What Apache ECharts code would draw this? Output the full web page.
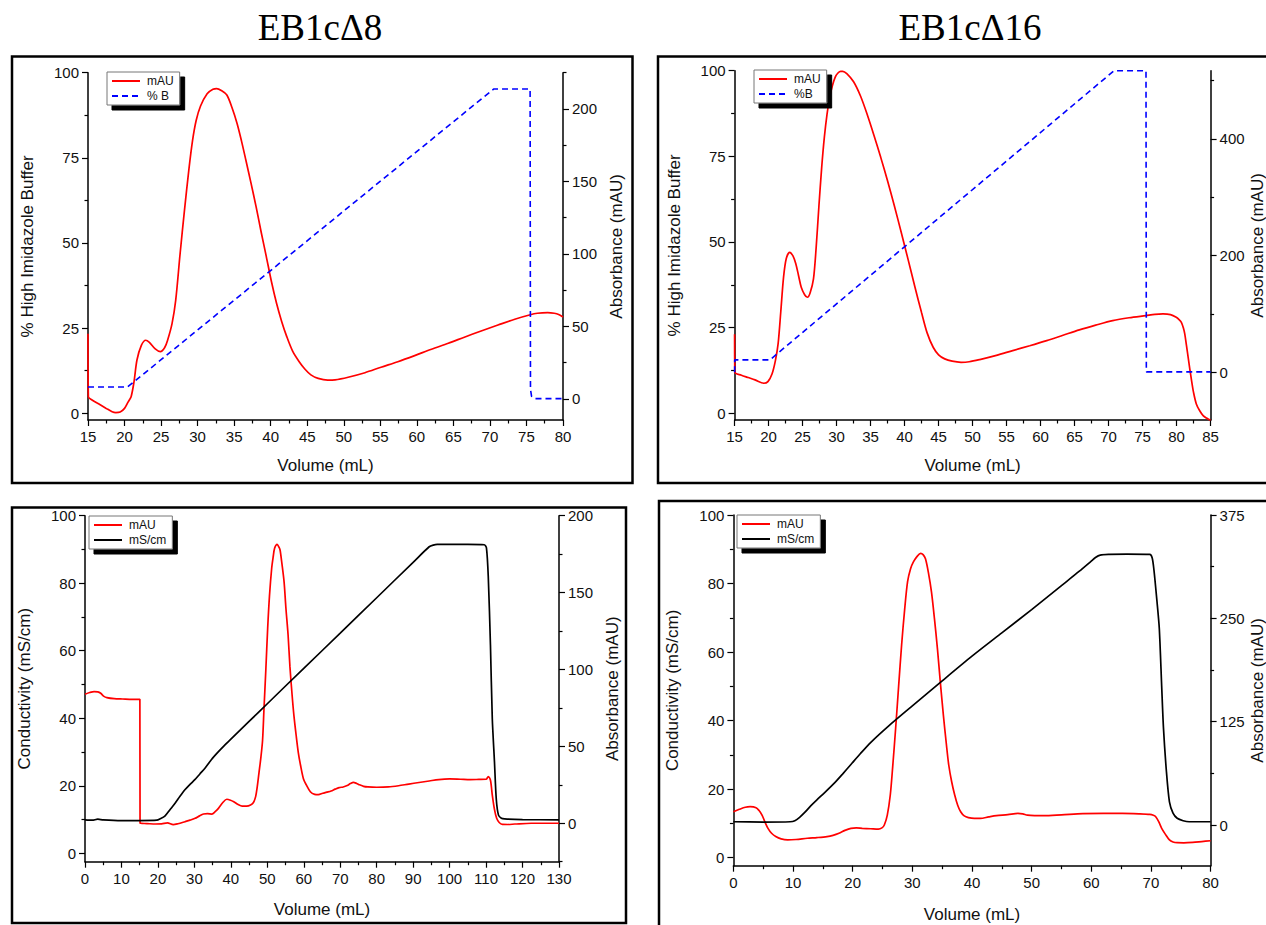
<!DOCTYPE html>
<html>
<head>
<meta charset="utf-8">
<title>EB1cΔ8 / EB1cΔ16 purification</title>
<script src="https://cdn.jsdelivr.net/npm/echarts@6/dist/echarts.min.js"></script>
<style>
  html, body { margin: 0; padding: 0; background: #fff; }
  #chart { width: 1266px; height: 925px; }
</style>
</head>
<body>
<div id="chart"></div>
<script>
// ---- Data: [volume (mL), value] pairs ----

// EB1cΔ8, Ni-affinity run: absorbance (mAU) and high-imidazole buffer (%B)
const d8NiAbs = [[15,45],[15.05,1.5],[15.5,-0.5],[16.5,-3.5],[17.5,-6.5],[18.3,-8.8],[18.8,-9.4],[19.4,-9],[20,-6.5],[20.5,-2],[20.9,1.6],[21.3,12],[21.7,26.9],[22.3,37],[22.9,40.5],[23.4,39],[24.2,34.5],[24.9,32.6],[25.5,35.5],[25.9,40.7],[26.5,52],[27,68],[27.6,100],[28.2,130],[28.8,158],[29.3,178],[29.8,192],[30.4,202],[31.3,210.5],[32.1,213.6],[32.6,214],[33.3,212.5],[34,209.6],[34.7,201],[35.4,190],[36,178],[36.6,164.8],[37.3,149],[38,132.6],[38.7,115],[39.4,98.2],[40.1,81],[40.8,66],[41.5,53.5],[42.2,43],[43,33],[43.9,25.7],[44.7,20.5],[45.5,16.6],[46.5,14.2],[47.8,13],[48.8,13.2],[50.6,15],[52.9,18.1],[55.1,21.9],[57.4,25.7],[59.7,29.9],[62,34.3],[64.3,38.4],[66.5,42.6],[68.8,46.9],[71.1,51],[73.4,55],[75.4,57.9],[76.5,59.1],[77.9,59.5],[78.8,59.1],[79.4,58.3],[80,56.5]];
const d8NiB = [[15,7.7],[20.4,7.7],[70.5,95.2],[75.5,95.2],[75.55,7],[75.7,5],[76.2,4.3],[80,4.3]];

// EB1cΔ16, Ni-affinity run
const d16NiAbs = [[15,65],[15.04,0],[16,-5],[17,-9],[18,-13],[19.3,-18.8],[19.9,-16],[20.5,-3],[21,20],[21.4,49],[21.8,105],[22.2,163],[22.6,195],[23.1,205.7],[23.6,199],[24,186],[24.4,166],[24.8,145.7],[25.3,133],[25.7,128.6],[26.1,136],[26.6,160],[27,215],[27.4,285],[27.8,350],[28.2,403],[28.6,443],[29,472],[29.4,492],[29.8,506],[30.2,513],[30.6,516],[30.9,516],[31.5,512],[32.5,498],[33.5,474],[34.5,442],[35.5,406],[36.5,368],[37.5,328],[38.5,285],[39.5,240],[40.5,194],[41.5,147],[42.5,102],[43.3,68],[44.2,42.9],[45,30],[45.9,23],[47,19],[48.3,17.1],[49.5,18],[51.05,21.8],[53.5,29],[55.9,37.2],[58.4,45.5],[60.9,54.3],[63.3,63.5],[65.7,72.7],[68.1,80.8],[70.6,88.6],[73,93.5],[75.5,97.2],[76.8,99.2],[78,100],[79.1,98.8],[79.95,94.3],[80.4,90],[80.7,85.7],[81,76],[81.2,65.8],[81.45,46],[81.7,25.7],[81.95,5],[82.2,-14.2],[82.5,-35],[82.9,-54.2],[83.4,-66],[83.9,-74.2],[84.4,-78.5],[84.85,-81.6],[85,-82]];
const d16NiB = [[15,12],[15.02,15.6],[20.2,15.6],[70.8,100],[75.5,100],[75.55,12.1],[85,12.1]];

// EB1cΔ8, ion-exchange run: absorbance (mAU) and conductivity (mS/cm)
const d8IexAbs = [[0,83.9],[1.3,85],[2.5,85.6],[3.5,85.4],[4.3,84.5],[5.2,82.5],[6,81.7],[8,81],[10.3,80.8],[13,80.6],[15.05,80.6],[15.1,0],[17,-0.2],[19.3,-0.5],[21,-0.4],[22.6,0.2],[24.2,-0.9],[25.5,-0.3],[27.4,1],[28.8,2],[30.2,3.2],[31.4,4.8],[32.5,6],[33.6,6.2],[34.8,6],[35.7,7.5],[36.6,9.7],[37.8,13.5],[38.9,15.6],[39.9,15],[40.8,14],[42,12.2],[43.1,11.2],[44.3,11.2],[45.4,11.9],[46.2,13.5],[46.8,17.3],[47.2,23],[47.7,32.5],[48.2,42],[48.7,54],[49.1,75],[49.6,100],[50.1,126.8],[50.6,148],[51.2,165.8],[51.6,173],[52,178.8],[52.7,181.4],[53.2,179.5],[53.5,177.7],[54,169],[54.6,157],[55.1,140],[55.7,122.4],[56.2,102],[56.8,83.4],[57.3,70],[57.9,57.4],[58.5,46],[59.1,37.9],[59.9,29],[60.7,24.9],[61.8,20.5],[63,18.8],[64,18.6],[65.2,19.5],[66.3,20.2],[67.5,21],[68.6,22.2],[69.7,23.2],[70.8,23.6],[71.9,24.5],[72.8,25.8],[73.6,26.6],[74.5,25.9],[75.3,25],[76.4,24],[77.6,23.6],[80,23.4],[83.2,23.6],[86,24.4],[88.8,25.5],[91.6,26.5],[94.4,27.5],[97,28.4],[100,28.8],[103,28.6],[105.6,28.4],[108,28.5],[110,28.6],[110.6,30.3],[111.2,28],[111.7,18.4],[112.3,9],[112.9,3.2],[113.6,0.5],[114.5,-0.7],[116,-0.8],[117.9,-0.5],[122.4,0],[130,0]];
const d8IexCond = [[0,9.9],[2,9.8],[3.5,10.1],[5,9.9],[10,9.7],[15,9.7],[19.7,9.8],[20.6,10.2],[21.9,11],[23.3,12.9],[24.7,14.8],[26,16.8],[27.4,18.8],[28.8,20.4],[30.2,21.9],[31.5,23.5],[32.9,25.2],[34.7,27.8],[36.6,30.1],[38.2,31.9],[39.8,33.6],[45,39.05],[50,44.3],[60,54.8],[70,65.2],[80,75.7],[90,86.2],[94.4,90.8],[95.5,91.3],[96.6,91.5],[100,91.5],[105,91.5],[109.5,91.4],[110.1,90.5],[110.6,82],[111.2,61.7],[111.7,40],[112.3,27.1],[112.8,16],[113.4,11.3],[114.2,10.4],[115.1,10.2],[120,10],[130,9.9]];

// EB1cΔ16, ion-exchange run
const d16IexAbs = [[0,16.1],[1,19],[2,21.5],[2.8,22.2],[3.8,21],[4.3,17.5],[4.8,12],[5.3,3.5],[5.8,-4],[6.4,-10],[7.1,-14],[8,-16.8],[9.1,-18],[10.5,-17.5],[12.4,-16],[14,-15.2],[15.7,-14],[16.7,-12.5],[17.7,-10],[18.7,-6.5],[19.7,-4],[20.6,-3.5],[21.6,-4],[23,-4.5],[24.3,-5],[24.9,-3.5],[25.3,0],[25.8,12],[26.3,36.3],[26.7,70],[27.2,117],[27.7,168],[28.2,217.7],[28.7,260],[29.2,294.3],[29.7,310],[30.2,318.5],[30.8,325],[31.4,328.6],[31.8,327],[32.2,322],[32.7,305],[33.2,282.2],[33.7,250],[34.2,213.7],[34.7,172],[35.2,133],[35.7,98],[36.1,72.6],[36.6,52],[37.1,36.3],[37.6,24],[38.1,16.1],[38.7,11],[39.4,8.9],[40.4,8],[41.4,8],[42.8,9.8],[44.1,11.3],[46,12.5],[47.7,14.1],[48.5,13.5],[49.3,12],[50.5,11.4],[52,11.3],[55,12.3],[58.6,13.7],[62,14.1],[65.2,14.1],[68,13.6],[69.8,12.9],[70.4,11.8],[70.8,10],[71.3,4],[71.8,-4],[72.4,-11],[73.1,-18],[73.7,-20.5],[74.4,-21.4],[75.5,-21.5],[77,-21],[78.5,-20],[80,-19]];
const d16IexCond = [[0,10.5],[5,10.4],[9.5,10.5],[10.3,10.8],[11.1,11.8],[12,13.3],[13,15.2],[14,16.9],[15.3,19],[17,21.9],[18.3,24.4],[19.7,27.2],[21.3,30.4],[23,33.6],[26,38.4],[30,44.3],[35,51.6],[40,58.8],[45,65.6],[50,72.4],[55,79.4],[58,83.6],[59.9,86.4],[60.7,87.6],[61.5,88.3],[63,88.5],[66,88.6],[69.8,88.5],[70.2,87.5],[70.5,84],[71,75],[71.4,66.9],[71.8,50],[72.1,37.8],[72.6,25],[73.1,16.3],[73.7,13],[74.4,11.5],[75.4,10.8],[76.4,10.5],[80,10.5]];

// Tick values for each axis (labelled majors, unlabelled minors)
const pctMajor = [0, 25, 50, 75, 100];
const pctMinor = [12.5, 37.5, 62.5, 87.5];
const abs8NiMajor = [0, 50, 100, 150, 200];
const abs8NiMinor = [25, 75, 125, 175, 225];
const abs16NiMajor = [0, 200, 400];
const abs16NiMinor = [100, 300, 500];
const condMajor = [0, 20, 40, 60, 80, 100];
const condMinor = [10, 30, 50, 70, 90];
const abs8IexMajor = [0, 50, 100, 150, 200];
const abs8IexMinor = [-25, 25, 75, 125, 175];
const abs16IexMajor = [0, 125, 250, 375];
const abs16IexMinor = [62.5, 187.5, 312.5];

// Titles and labels
const panelTitles = ['EB1cΔ8', 'EB1cΔ16'];
const volumeName = 'Volume (mL)';
const pctName = '% High Imidazole Buffer';
const condName = 'Conductivity (mS/cm)';
const absName = 'Absorbance (mAU)';

// ---- Styling helpers ----
const SANS = "'Liberation Sans', Arial, Helvetica, sans-serif";
const SERIF = "'Liberation Serif', 'Times New Roman', serif";
const INK = '#111';

function xAxis(gridIndex, min, max, interval, nameGap) {
  return {
    type: 'value', gridIndex, min, max, interval,
    name: volumeName, nameLocation: 'middle', nameGap,
    nameTextStyle: { fontFamily: SANS, fontSize: 17, color: INK },
    axisLine: { show: true, onZero: false, lineStyle: { color: '#000', width: 1.5 } },
    axisTick: { show: true, length: 6, lineStyle: { color: '#000', width: 1.2 } },
    minorTick: { show: true, splitNumber: 2, length: 3.5, lineStyle: { color: '#000', width: 1.2 } },
    axisLabel: { fontFamily: SANS, fontSize: 15, color: INK, margin: 9 },
    splitLine: { show: false }, minorSplitLine: { show: false }
  };
}

function yAxes(gridIndex, position, min, max, majors, minors, name, nameGap) {
  const major = {
    type: 'value', gridIndex, position, min, max,
    name, nameLocation: 'middle', nameGap,
    nameTextStyle: { fontFamily: SANS, fontSize: 17, color: INK },
    axisLine: { show: true, onZero: false, lineStyle: { color: '#000', width: 1.5 } },
    axisTick: { show: true, length: 6, customValues: majors, lineStyle: { color: '#000', width: 1.2 } },
    axisLabel: { show: true, customValues: majors, fontFamily: SANS, fontSize: 15, color: INK, margin: 9 },
    splitLine: { show: false }
  };
  const minor = {
    type: 'value', gridIndex, position, min, max,
    axisLine: { show: false, onZero: false },
    axisTick: { show: true, length: 3.5, customValues: minors, lineStyle: { color: '#000', width: 1.2 } },
    axisLabel: { show: false },
    splitLine: { show: false }
  };
  return [major, minor];
}

function line(name, data, xAxisIndex, yAxisIndex, color, opts) {
  return Object.assign({
    type: 'line', name, data, xAxisIndex, yAxisIndex,
    symbol: 'none', showSymbol: false, silent: true, animation: false,
    lineStyle: { color, width: 1.7 }, itemStyle: { color }
  }, opts || {});
}

function legend(left, top, names) {
  return {
    left, top, orient: 'vertical', data: names, selectedMode: false,
    itemWidth: 28, itemHeight: 10, itemGap: 3,
    padding: [3, 6, 3, 4],
    backgroundColor: '#fff', borderColor: '#777', borderWidth: 1,
    shadowColor: '#000', shadowBlur: 0, shadowOffsetX: 5, shadowOffsetY: 5,
    // only the line sample, no marker dot
    itemStyle: { color: 'transparent', borderColor: 'transparent', borderWidth: 0, opacity: 0 },
    textStyle: { fontFamily: SANS, fontSize: 12, color: INK, padding: [0, 0, 0, 2] }
  };
}

// Plot areas are placed exactly, independent of label extents.
const grids = [
  { left: 88, top: 72.7, width: 475, height: 347.3, outerBoundsMode: 'none' },
  { left: 734.6, top: 70.7, width: 476, height: 349.3, outerBoundsMode: 'none' },
  { left: 85, top: 515.7, width: 474, height: 346, outerBoundsMode: 'none' },
  { left: 733.4, top: 515, width: 477.2, height: 350.7, outerBoundsMode: 'none' }
];

const yAxisList = [].concat(
  yAxes(0, 'left', -1.97, 100, pctMajor, pctMinor, pctName, 52),
  yAxes(0, 'right', -14.5, 225, abs8NiMajor, abs8NiMinor, absName, 45),
  yAxes(1, 'left', -1.96, 100, pctMajor, pctMinor, pctName, 52),
  yAxes(1, 'right', -81.8, 517, abs16NiMajor, abs16NiMinor, absName, 36),
  yAxes(2, 'left', -2.49, 100, condMajor, condMinor, condName, 52),
  yAxes(2, 'right', -25, 200, abs8IexMajor, abs8IexMinor, absName, 45),
  yAxes(3, 'left', -2.33, 100, condMajor, condMinor, condName, 52),
  yAxes(3, 'right', -49.2, 375, abs16IexMajor, abs16IexMinor, absName, 36)
);

const RED = '#ff0000', BLUE = '#0000ff', BLACK = '#000000';
const dashed = { lineStyle: { color: BLUE, width: 1.6, type: [6, 4] } };
const smoothRed = { smooth: 0.3 };
const smoothBlack = { smooth: 0.25 };

const option = {
  backgroundColor: '#fff',
  animation: false,
  grid: grids,
  xAxis: [
    xAxis(0, 15, 80, 5, 37),
    xAxis(1, 15, 85, 5, 37),
    xAxis(2, 0, 130, 10, 39),
    xAxis(3, 0, 80, 10, 40)
  ],
  yAxis: yAxisList,
  legend: [
    legend(107, 72, ['mAU', '% B']),
    legend(754, 70, ['mAU', '%B']),
    legend(89, 516, ['mAU', 'mS/cm']),
    legend(737, 515, ['mAU', 'mS/cm'])
  ],
  series: [
    line('mAU', d8NiAbs, 0, 2, RED, smoothRed),
    line('% B', d8NiB, 0, 0, BLUE, dashed),
    line('mAU', d16NiAbs, 1, 6, RED, smoothRed),
    line('%B', d16NiB, 1, 4, BLUE, dashed),
    line('mAU', d8IexAbs, 2, 10, RED, smoothRed),
    line('mS/cm', d8IexCond, 2, 8, BLACK, smoothBlack),
    line('mAU', d16IexAbs, 3, 14, RED, smoothRed),
    line('mS/cm', d16IexCond, 3, 12, BLACK, smoothBlack)
  ],
  graphic: [
    // panel frames
    { type: 'rect', shape: { x: 12, y: 56.5, width: 620.5, height: 426.5 }, style: { fill: 'none', stroke: '#000', lineWidth: 2.5 }, silent: true },
    { type: 'rect', shape: { x: 658, y: 56.5, width: 640, height: 426.5 }, style: { fill: 'none', stroke: '#000', lineWidth: 2.5 }, silent: true },
    { type: 'rect', shape: { x: 12, y: 507.5, width: 614, height: 415.5 }, style: { fill: 'none', stroke: '#000', lineWidth: 2.5 }, silent: true },
    { type: 'rect', shape: { x: 659, y: 501, width: 640, height: 460 }, style: { fill: 'none', stroke: '#000', lineWidth: 2.5 }, silent: true },
    // column titles
    { type: 'text', x: 320, y: 27, style: { text: panelTitles[0], font: '37px ' + SERIF, fill: '#000', textAlign: 'center', textVerticalAlign: 'middle' }, silent: true },
    { type: 'text', x: 970, y: 27, style: { text: panelTitles[1], font: '37px ' + SERIF, fill: '#000', textAlign: 'center', textVerticalAlign: 'middle' }, silent: true }
  ]
};

const chart = echarts.init(document.getElementById('chart'), null, { renderer: 'svg', width: 1266, height: 925 });
chart.setOption(option);
</script>
</body>
</html>
